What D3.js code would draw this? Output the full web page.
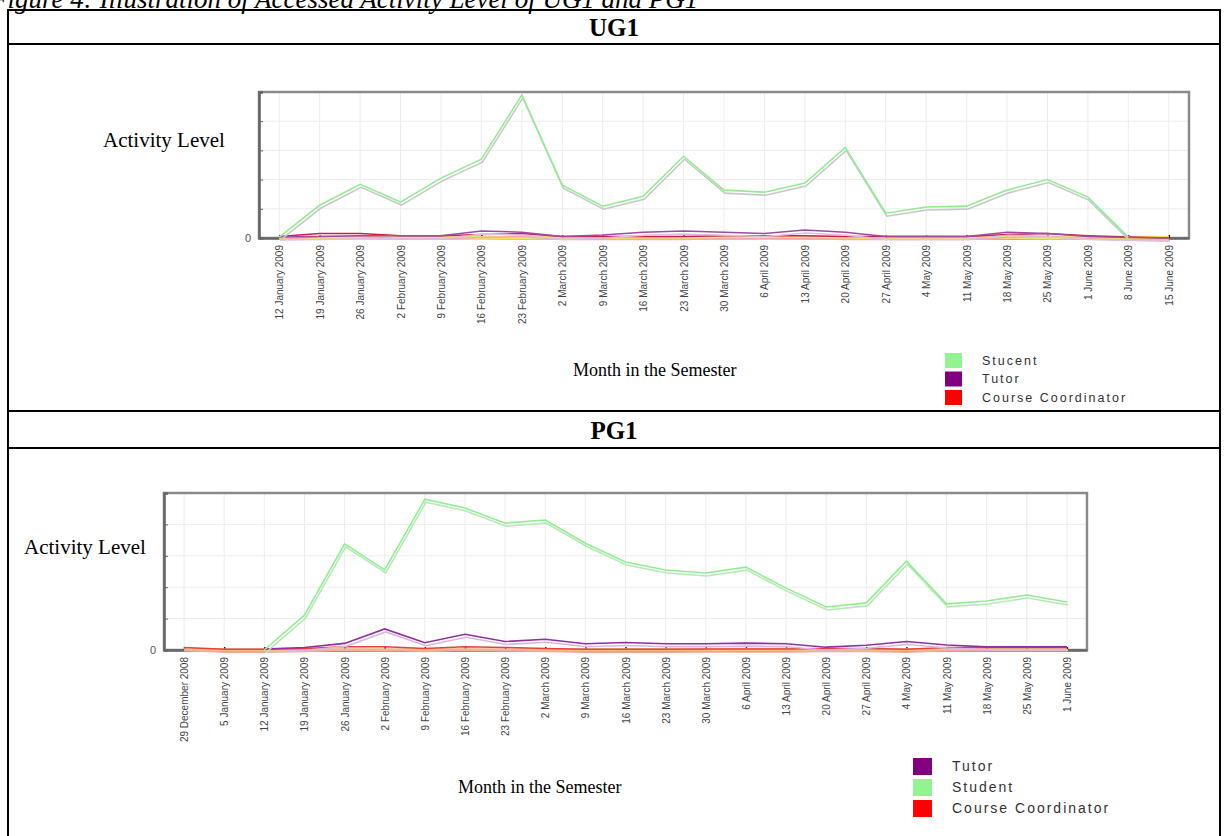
<!DOCTYPE html>
<html>
<head>
<meta charset="utf-8">
<script src="https://cdn.jsdelivr.net/npm/d3@7"></script>
<style>
  body { margin: 0; background: #fff; }
  svg { display: block; }
</style>
</head>
<body>
<div id="page"></div>
<script>
// UG1 data
const ug1Dates = ['12 January 2009', '19 January 2009', '26 January 2009', '2 February 2009',
  '9 February 2009', '16 February 2009', '23 February 2009', '2 March 2009', '9 March 2009',
  '16 March 2009', '23 March 2009', '30 March 2009', '6 April 2009', '13 April 2009',
  '20 April 2009', '27 April 2009', '4 May 2009', '11 May 2009', '18 May 2009', '25 May 2009',
  '1 June 2009', '8 June 2009', '15 June 2009'];
const ug1Student = [0.03, 1.12, 1.84, 1.23, 2.05, 2.7, 4.9, 1.81, 1.09, 1.43, 2.8, 1.64,
  1.57, 1.88, 3.1, 0.85, 1.06, 1.09, 1.64, 2.0, 1.4, 0.03, null];
const ug1Tutor = [0.03, 0.05, 0.08, 0.08, 0.08, 0.24, 0.2, 0.05, 0.1, 0.2, 0.24, 0.2,
  0.15, 0.27, 0.2, 0.05, 0.05, 0.05, 0.2, 0.15, 0.05, 0.02, 0];
const ug1Coord = [0.05, 0.15, 0.15, 0.08, 0.08, 0.12, 0.15, 0.05, 0.05, 0.05, 0.05, 0.08,
  0.08, 0.08, 0.05, 0.05, 0.05, 0.05, 0.12, 0.15, 0.08, 0.03, 0];
const ug1Other = [0.01, 0.01, 0, 0.01, 0.01, 0, 0.01, 0.01, 0, 0.01, 0.01, 0.01,
  0, 0.01, 0.01, 0.02, 0.02, 0.01, 0.02, 0.01, 0.01, 0.01, 0.01];

// PG1 data
const pg1Dates = ['29 December 2008', '5 January 2009', '12 January 2009', '19 January 2009',
  '26 January 2009', '2 February 2009', '9 February 2009', '16 February 2009',
  '23 February 2009', '2 March 2009', '9 March 2009', '16 March 2009', '23 March 2009',
  '30 March 2009', '6 April 2009', '13 April 2009', '20 April 2009', '27 April 2009',
  '4 May 2009', '11 May 2009', '18 May 2009', '25 May 2009', '1 June 2009'];
const pg1Student = [null, null, 0, 1.11, 3.38, 2.55, 4.8, 4.52, 4.04, 4.14, 3.4, 2.8, 2.55,
  2.45, 2.64, 1.97, 1.37, 1.5, 2.83, 1.47, 1.56, 1.75, 1.53];
const pg1Tutor = [null, null, 0.03, 0.08, 0.21, 0.67, 0.23, 0.5, 0.27, 0.34, 0.2, 0.24, 0.2,
  0.2, 0.22, 0.2, 0.09, 0.15, 0.27, 0.16, 0.1, 0.1, 0.1];
const pg1Coord = [0.08, 0.02, 0.02, 0.05, 0.1, 0.1, 0.05, 0.1, 0.08, 0.05, 0.02, 0.02, 0.02,
  0.03, 0.03, 0.03, 0.05, 0.05, 0.02, 0.08, 0.08, 0.08, 0.08];
const pg1Other = [0.01, 0, 0, 0.01, 0.01, 0, 0.01, 0.01, 0, 0.01, 0, 0.01,
  0.01, 0, 0.01, 0.01, 0, 0.01, 0.01, 0, 0.01, 0.01, 0.01];

const yTicks = [0, 1, 2, 3, 4];

const width = 1227;
const height = 836;
const serif = "'Liberation Serif', 'Times New Roman', serif";
const sans = "'Liberation Sans', Arial, sans-serif";

const svg = d3.select('#page')
  .append('svg')
  .attr('width', width)
  .attr('height', height);

svg.append('rect').attr('width', width).attr('height', height).attr('fill', '#fff');

// caption, cut off at the top of the page
svg.append('text')
  .attr('x', -9)
  .attr('y', 8)
  .style('font-family', serif)
  .style('font-style', 'italic')
  .style('font-size', '27px')
  .text('Figure 4: Illustration of Accessed Activity Level of UG1 and PG1');

// table frame
const table = { left: 8, right: 1220, lines: [10, 44, 411, 448] };
table.lines.forEach((y) => {
  svg.append('line')
    .attr('x1', table.left).attr('x2', table.right)
    .attr('y1', y).attr('y2', y)
    .attr('stroke', '#000').attr('stroke-width', 2);
});
[table.left, table.right].forEach((x) => {
  svg.append('line')
    .attr('x1', x).attr('x2', x)
    .attr('y1', table.lines[0] - 1).attr('y2', height)
    .attr('stroke', '#000').attr('stroke-width', 2);
});

const header = (label, y) => {
  svg.append('text')
    .attr('x', (table.left + table.right) / 2)
    .attr('y', y)
    .attr('text-anchor', 'middle')
    .style('font-family', serif)
    .style('font-weight', 'bold')
    .style('font-size', '25px')
    .text(label);
};
header('UG1', 36);
header('PG1', 439);

const drawChart = (cfg) => {
  const x = d3.scalePoint()
    .domain(cfg.dates)
    .range([cfg.left, cfg.right])
    .padding(0.5);
  const y = d3.scaleLinear()
    .domain([0, 5])
    .range([cfg.bottom, cfg.top]);

  const g = svg.append('g');

  // grid
  g.selectAll('.vgrid')
    .data(cfg.dates)
    .enter()
    .append('line')
    .attr('x1', (d) => x(d)).attr('x2', (d) => x(d))
    .attr('y1', cfg.top).attr('y2', cfg.bottom)
    .attr('stroke', '#ececec');
  g.selectAll('.hgrid')
    .data(yTicks.slice(1))
    .enter()
    .append('line')
    .attr('x1', cfg.left).attr('x2', cfg.right)
    .attr('y1', (d) => y(d)).attr('y2', (d) => y(d))
    .attr('stroke', '#ececec');

  // plot frame
  g.append('rect')
    .attr('x', cfg.left).attr('y', cfg.top)
    .attr('width', cfg.right - cfg.left)
    .attr('height', cfg.bottom - cfg.top)
    .attr('fill', 'none')
    .attr('stroke', '#8a8a8a')
    .attr('stroke-width', 2.5);

  // y axis
  const yAxis = g.append('g')
    .attr('transform', `translate(${cfg.left},0)`)
    .call(d3.axisLeft(y)
      .tickValues(yTicks)
      .tickSize(-4)
      .tickPadding(8)
      .tickFormat((d) => (d === 0 ? '0' : '')));
  yAxis.select('.domain').attr('stroke', '#666').attr('stroke-width', 2.5);
  yAxis.selectAll('.tick line').attr('stroke', '#666');
  yAxis.selectAll('text')
    .style('font-family', sans)
    .style('font-size', '11px')
    .attr('fill', '#555');

  // x axis
  const xAxis = g.append('g')
    .attr('transform', `translate(0,${cfg.bottom})`)
    .call(d3.axisBottom(x).tickSize(-3).tickSizeOuter(0));
  xAxis.select('.domain').attr('stroke', '#666').attr('stroke-width', 2.5);
  xAxis.selectAll('.tick line').attr('stroke', '#222').attr('stroke-width', 1.5);
  xAxis.selectAll('text')
    .attr('transform', 'rotate(-90)')
    .attr('x', -7)
    .attr('y', 0)
    .attr('dy', '0.35em')
    .attr('text-anchor', 'end')
    .style('font-family', sans)
    .style('font-size', '10px')
    .attr('fill', '#444');

  // series, drawn over the axes like in the original
  const line = d3.line()
    .defined((d) => d != null)
    .x((d, i) => x(cfg.dates[i]))
    .y((d) => y(d));

  cfg.series.forEach((s) => {
    if (s.shadow) {
      g.append('path')
        .attr('d', line(s.values))
        .attr('transform', 'translate(1,3)')
        .attr('fill', 'none')
        .attr('stroke', s.shadow)
        .attr('stroke-width', s.width);
    }
    g.append('path')
      .attr('d', line(s.values))
      .attr('fill', 'none')
      .attr('stroke', s.color)
      .attr('stroke-width', s.width);
  });

  // axis titles
  svg.append('text')
    .attr('x', cfg.yTitle[0]).attr('y', cfg.yTitle[1])
    .style('font-family', serif)
    .style('font-size', '21px')
    .text('Activity Level');
  svg.append('text')
    .attr('x', cfg.xTitle[0]).attr('y', cfg.xTitle[1])
    .style('font-family', serif)
    .style('font-size', '18px')
    .text('Month in the Semester');

  // legend
  const legend = svg.append('g')
    .attr('transform', `translate(${cfg.legend[0]},${cfg.legend[1]})`);
  const item = legend.selectAll('g')
    .data(cfg.legendItems)
    .enter()
    .append('g')
    .attr('transform', (d, i) => `translate(0,${i * cfg.legendStep})`);
  item.append('rect')
    .attr('width', cfg.swatch[0])
    .attr('height', cfg.swatch[1])
    .attr('fill', (d) => d.color);
  item.append('text')
    .attr('x', cfg.swatch[0] + 20)
    .attr('y', cfg.swatch[1] / 2)
    .attr('dy', '0.35em')
    .style('font-family', sans)
    .style('font-size', cfg.legendFont)
    .style('letter-spacing', cfg.legendSpacing)
    .attr('fill', '#333')
    .text((d) => d.label);
};

drawChart({
  dates: ug1Dates,
  left: 259,
  right: 1189,
  top: 92,
  bottom: 238,
  series: [
    { values: ug1Other, color: '#f2e36a', width: 4 },
    { values: ug1Coord, color: '#d0204a', width: 1.5, shadow: '#f6a8b0' },
    { values: ug1Tutor, color: '#a04aa8', width: 1.5, shadow: '#dcc0e0' },
    { values: ug1Student, color: '#90ee90', width: 1.6, shadow: '#c8c8c8' },
  ],
  yTitle: [103, 147],
  xTitle: [573, 376],
  legend: [945, 353],
  legendStep: 18.5,
  swatch: [17, 15],
  legendFont: '12.5px',
  legendSpacing: '2px',
  legendItems: [
    { label: 'Stucent', color: '#90f590' },
    { label: 'Tutor', color: '#800080' },
    { label: 'Course Coordinator', color: '#ff0000' },
  ],
});

drawChart({
  dates: pg1Dates,
  left: 164,
  right: 1087,
  top: 493,
  bottom: 650,
  series: [
    { values: pg1Other, color: '#f5c080', width: 3 },
    { values: pg1Coord, color: '#e84040', width: 1.5, shadow: '#f8a8a0' },
    { values: pg1Tutor, color: '#9030a0', width: 1.6, shadow: '#d8b8e0' },
    { values: pg1Student, color: '#90ee90', width: 1.6, shadow: '#b8e8b8' },
  ],
  yTitle: [24, 554],
  xTitle: [458, 793],
  legend: [913, 758],
  legendStep: 21,
  swatch: [19, 17],
  legendFont: '14px',
  legendSpacing: '2px',
  legendItems: [
    { label: 'Tutor', color: '#800080' },
    { label: 'Student', color: '#90f590' },
    { label: 'Course Coordinator', color: '#ff0000' },
  ],
});
</script>
</body>
</html>
